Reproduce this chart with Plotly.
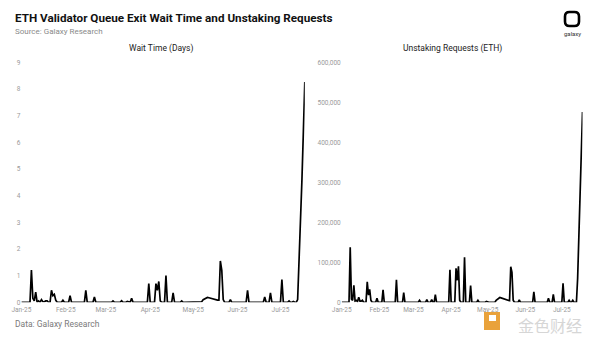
import pandas as pd
import plotly.graph_objects as go

# ---------------- data (daily, from 2025-01-01) ----------------
start_date = "2025-01-01"
wait_days = [
    0, 0, 0, 0, 0, 0, 0, 1.21, 0.15, 0.05,
    0.38, 0, 0.05, 0, 0.1, 0.02, 0.02, 0.05, 0.05, 0,
    0, 0.45, 0.25, 0.3, 0.08, 0, 0, 0, 0, 0.08,
    0, 0, 0, 0, 0.25, 0, 0, 0, 0, 0,
    0, 0, 0, 0, 0, 0.45, 0, 0, 0, 0,
    0, 0.2, 0, 0, 0, 0, 0, 0, 0, 0,
    0, 0, 0, 0, 0.05, 0, 0, 0, 0, 0,
    0.06, 0, 0, 0, 0.03, 0, 0, 0.15, 0, 0,
    0, 0, 0, 0, 0, 0, 0, 0, 0, 0.7,
    0, 0, 0, 0, 0.7, 0.45, 0.78, 0.05, 0, 0,
    0, 1.0, 0, 0, 0, 0, 0.35, 0, 0, 0,
    0, 0, 0.05, 0, 0, 0, 0, 0, 0, 0,
    0, 0, 0, 0, 0, 0, 0.02, 0.1, 0.12, 0.15,
    0.18, 0.17, 0.15, 0.14, 0.12, 0.1, 0.09, 0.08, 0.08, 1.55,
    1.2, 0.1, 0, 0, 0, 0, 0.1, 0, 0, 0,
    0, 0, 0, 0, 0, 0, 0, 0, 0.45, 0,
    0, 0, 0, 0, 0, 0, 0, 0, 0, 0,
    0.2, 0, 0, 0, 0.35, 0, 0, 0, 0, 0,
    0, 0, 0.85, 0, 0, 0, 0, 0.05, 0, 0,
    0.03, 0, 0, 0.1, 1.4, 3.0, 4.6, 6.4, 8.26,
]
unstaking_eth = [
    0, 0, 0, 0, 0, 0, 0, 137500, 8000, 5000,
    42500, 3000, 5000, 2000, 12500, 3000, 3000, 5000, 0, 0,
    0, 51000, 18000, 32500, 5000, 0, 0, 0, 0, 10000,
    0, 0, 0, 0, 31000, 0, 0, 0, 0, 0,
    0, 0, 0, 0, 0, 56000, 0, 0, 0, 0,
    0, 24000, 0, 0, 0, 0, 0, 0, 0, 0,
    0, 0, 0, 0, 5000, 0, 0, 0, 0, 0,
    7000, 0, 0, 0, 7000, 0, 0, 19000, 0, 0,
    0, 0, 0, 0, 0, 0, 0, 0, 0, 81000,
    0, 0, 0, 0, 85000, 55000, 90000, 5000, 0, 0,
    0, 112500, 0, 0, 0, 0, 42000, 0, 0, 0,
    0, 0, 5000, 0, 0, 0, 0, 0, 0, 2000,
    0, 0, 0, 0, 0, 0, 0, 5000, 8000, 10000,
    12000, 11000, 10000, 9000, 8000, 6000, 5000, 4000, 4000, 89000,
    75000, 5000, 0, 0, 0, 0, 6000, 0, 0, 0,
    0, 0, 0, 0, 0, 0, 0, 0, 26000, 0,
    0, 0, 0, 0, 0, 0, 0, 0, 0, 0,
    10000, 0, 0, 0, 20000, 0, 0, 0, 0, 0,
    0, 0, 47500, 0, 0, 0, 0, 5000, 0, 0,
    5000, 0, 0, 0, 60000, 150000, 240000, 350000, 476000,
]
dates = pd.date_range(start_date, periods=len(wait_days), freq="D")

month_ticks = ["2025-01-01", "2025-02-01", "2025-03-01", "2025-04-01",
               "2025-05-01", "2025-06-01", "2025-07-01"]
month_labels = ["Jan-25", "Feb-25", "Mar-25", "Apr-25", "May-25", "Jun-25", "Jul-25"]
wait_ticks = list(range(0, 10))
eth_ticks = [0, 100000, 200000, 300000, 400000, 500000, 600000]
eth_labels = ["0", "100,000", "200,000", "300,000", "400,000", "500,000", "600,000"]

title = "ETH Validator Queue Exit Wait Time and Unstaking Requests"
subtitle = "Source: Galaxy Research"
footer = "Data: Galaxy Research"
panel_titles = ["Wait Time (Days)", "Unstaking Requests (ETH)"]

# ---------------- figure ----------------
W, H = 600, 338
def px(x):
    return x / W
def py(y):
    return 1 - y / H

fig = go.Figure()
fig.add_trace(go.Scatter(x=dates, y=wait_days, mode="lines",
                         line=dict(color="#000000", width=1.7),
                         xaxis="x", yaxis="y", showlegend=False))
fig.add_trace(go.Scatter(x=dates, y=unstaking_eth, mode="lines",
                         line=dict(color="#000000", width=1.7),
                         xaxis="x2", yaxis="y2", showlegend=False))

tickfont = dict(family="Roboto, Arial, sans-serif", size=6.5, color="#9a9a9a")
xcommon = dict(type="date", range=[dates[0], dates[-1]], tickvals=month_ticks,
               ticktext=month_labels, showgrid=False, zeroline=False,
               showline=False, ticks="", tickfont=tickfont, automargin=False,
               fixedrange=True, ticklabelstandoff=2)
ycommon = dict(showgrid=False, zeroline=False, showline=False, ticks="",
               tickfont=tickfont, automargin=False, fixedrange=True,
               domain=[py(302.3), py(62.3)])

fig.update_layout(
    width=W, height=H, autosize=False,
    margin=dict(l=0, r=0, t=0, b=0),
    paper_bgcolor="white", plot_bgcolor="white",
    xaxis=dict(xcommon, domain=[px(21.4), px(304.8)], anchor="y"),
    yaxis=dict(ycommon, range=[0, 9], tickvals=wait_ticks, anchor="x"),
    xaxis2=dict(xcommon, domain=[px(341.7), px(582.5)], anchor="y2"),
    yaxis2=dict(ycommon, range=[0, 600000], tickvals=eth_ticks,
                ticktext=eth_labels, anchor="x2"),
)

font_main = "Roboto, Arial, sans-serif"
ann = [
    dict(text="<b>" + title + "</b>", x=px(13), y=py(18),
         font=dict(family=font_main, size=11.7, color="#111111")),
    dict(text=subtitle, x=px(13), y=py(31),
         font=dict(family=font_main, size=8, color="#8a8a8a")),
    dict(text=footer, x=px(13), y=py(324),
         font=dict(family=font_main, size=8.5, color="#7a7a7a")),
    dict(text=panel_titles[0], x=px(161), y=py(48), xanchor="center",
         font=dict(family=font_main, size=8.5, color="#222222")),
    dict(text=panel_titles[1], x=px(452), y=py(48), xanchor="center",
         font=dict(family=font_main, size=8.5, color="#222222")),
    dict(text="galaxy", x=px(572), y=py(33.5), xanchor="center",
         font=dict(family=font_main, size=6, color="#333333")),
    dict(text="金色财经", x=px(550), y=py(325), xanchor="center",
         font=dict(family="Noto Sans CJK SC", size=16, color="#d6d6d6")),
]
for a in ann:
    a.setdefault("xanchor", "left")
    a.update(xref="paper", yref="paper", yanchor="middle", showarrow=False)
fig.update_layout(annotations=ann)

# galaxy logo: rounded square outline
def rounded_square(x0, y0, x1, y1, r):
    pts = [f"M{px(x0 + r)},{py(y0)}", f"L{px(x1 - r)},{py(y0)}",
           f"Q{px(x1)},{py(y0)} {px(x1)},{py(y0 + r)}", f"L{px(x1)},{py(y1 - r)}",
           f"Q{px(x1)},{py(y1)} {px(x1 - r)},{py(y1)}", f"L{px(x0 + r)},{py(y1)}",
           f"Q{px(x0)},{py(y1)} {px(x0)},{py(y1 - r)}", f"L{px(x0)},{py(y0 + r)}",
           f"Q{px(x0)},{py(y0)} {px(x0 + r)},{py(y0)}", "Z"]
    return " ".join(pts)

shapes = [
    dict(type="path", xref="paper", yref="paper",
         path=rounded_square(565, 12, 579, 26, 4.5),
         line=dict(color="#000000", width=2.6)),
    # watermark logo block
    dict(type="rect", xref="paper", yref="paper",
         x0=px(484), x1=px(500), y0=py(330), y1=py(312),
         fillcolor="#e9a23b", line=dict(width=0)),
    dict(type="rect", xref="paper", yref="paper",
         x0=px(489), x1=px(496), y0=py(321), y1=py(315),
         fillcolor="#ffffff", line=dict(width=0)),
]
fig.update_layout(shapes=shapes)

fig.write_html("out.html")
